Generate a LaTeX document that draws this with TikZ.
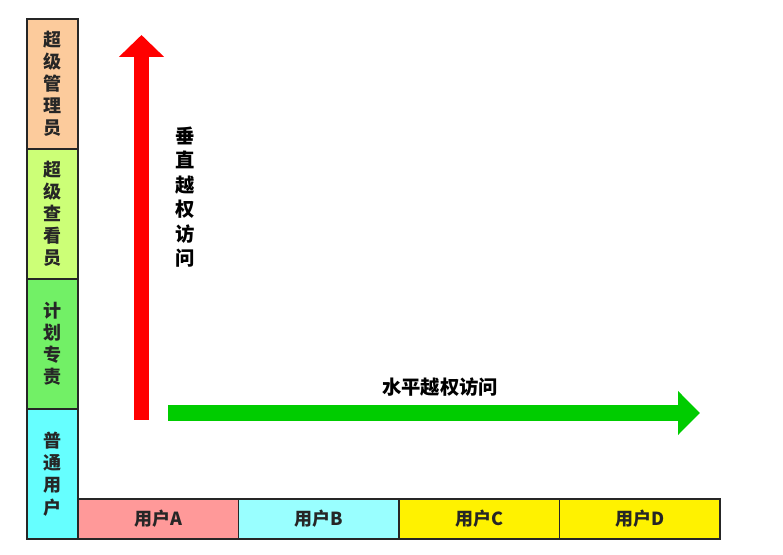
\documentclass[tikz,border=0pt]{standalone}
\usepackage{fontspec}
\usepackage{xcolor}
\usepackage{tikz}
\usetikzlibrary{positioning,arrows.meta}
\newfontfamily\cjk{Noto Sans CJK SC}

\definecolor{peach}{HTML}{FCCB9C}
\definecolor{lime}{HTML}{CCFF77}
\definecolor{plangreen}{HTML}{72F066}
\definecolor{aqua}{HTML}{66FFFF}
\definecolor{pink}{HTML}{FF9999}
\definecolor{paleaqua}{HTML}{99FFFF}
\definecolor{arrowgreen}{HTML}{00CC00}
\definecolor{ink}{HTML}{262626}

\begin{document}
\begin{tikzpicture}[x=0.75pt, y=-0.75pt,
    level/.style={draw=ink, line width=1.2pt, outer sep=0pt, inner sep=0pt,
        minimum width=38.25pt, minimum height=97.5pt, align=center,
        font=\cjk\bfseries\fontsize{13.5pt}{16.6pt}\selectfont, text=ink},
    user/.style={draw=ink, line width=1.2pt, outer sep=0pt, inner sep=0pt,
        minimum width=120.4pt, minimum height=30pt,
        font=\cjk\bfseries\fontsize{13.5pt}{15pt}\selectfont, text=ink},
    label/.style={align=center, text=black,
        font=\cjk\bfseries\fontsize{14.5pt}{18.4pt}\selectfont}]
    \useasboundingbox (0,0) rectangle (783,555);

    % privilege levels, top to bottom
    \node [level, fill=peach, anchor=north west] at (27,19) (superadmin) {超\\级\\管\\理\\员};
    \node [level, fill=lime, below=0pt of superadmin] (superviewer) {超\\级\\查\\看\\员};
    \node [level, fill=plangreen, below=0pt of superviewer] (planner) {计\\划\\专\\责};
    \node [level, fill=aqua, below=0pt of planner] (normaluser) {普\\通\\用\\户};

    % users along the bottom
    \node [user, fill=pink, anchor=south west] at (normaluser.south east) (userA) {用户A};
    \node [user, fill=paleaqua, right=0pt of userA] (userB) {用户B};
    \node [user, fill=yellow, right=0pt of userB] (userC) {用户C};
    \node [user, fill=yellow, right=0pt of userC] (userD) {用户D};

    % arrows
    \coordinate (vbase) at (141.5,420);
    \coordinate (vtip) at (141.5,35);
    \coordinate (hbase) at (168,413);
    \coordinate (htip) at (700,413);
    \draw [red, line width=11.25pt, -{Triangle[length=16.5pt, width=33pt]}] (vbase) -- (vtip);
    \draw [arrowgreen, line width=12pt, -{Triangle[length=16.5pt, width=32pt]}] (hbase) -- (htip);

    \node [label] at (185,197) (vlabel) {垂\\直\\越\\权\\访\\问};
    \node [label] at (440,387) (hlabel) {水平越权访问};
\end{tikzpicture}
\end{document}
